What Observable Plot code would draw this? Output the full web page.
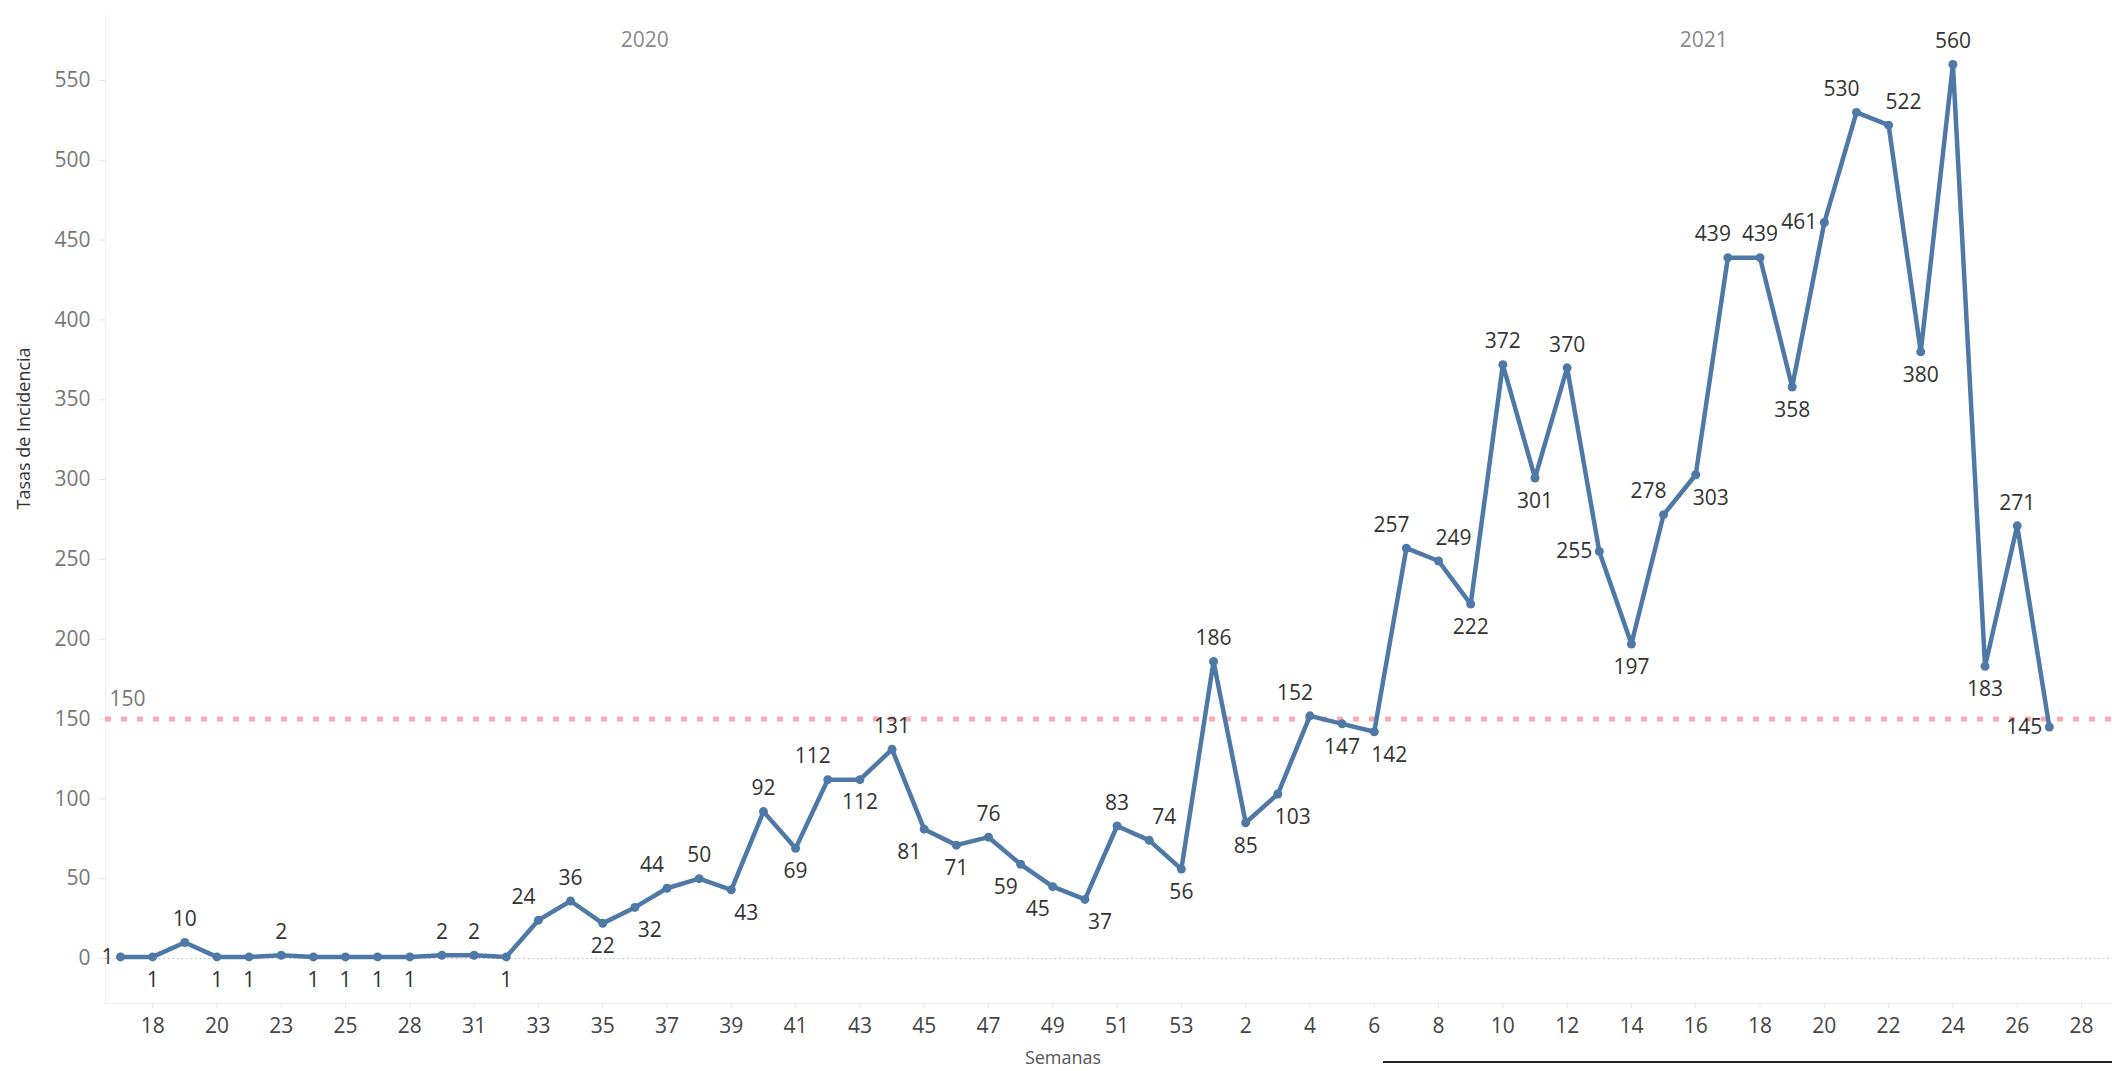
<!DOCTYPE html>
<html>
<head>
<meta charset="utf-8">
<script src="https://cdn.jsdelivr.net/npm/d3@7"></script>
<script src="https://cdn.jsdelivr.net/npm/@observablehq/plot@0.6"></script>
<style>
  html, body { margin: 0; padding: 0; background: #fff; overflow: hidden; }
  #chart { position: relative; width: 2112px; height: 1071px; }
  #edge { position: absolute; left: 1383px; top: 1061px; width: 729px; height: 0; border-top: 2px solid #222; }
</style>
</head>
<body>
<div id="chart"></div>
<script>
// ---- data ----
const weeks2020 = [17,18,19,20,21,23,24,25,26,28,29,31,32,33,34,35,36,37,38,39,40,41,42,43,44,45,46,47,48,49,50,51,52,53];
const values2020 = [1,1,10,1,1,2,1,1,1,1,2,2,1,24,36,22,32,44,50,43,92,69,112,112,131,81,71,76,59,45,37,83,74,56];
const weeks2021 = [1,2,3,4,5,6,7,8,9,10,11,12,13,14,15,16,17,18,19,20,21,22,23,24,25,26,27];
const values2021 = [186,85,103,152,147,142,257,249,222,372,301,370,255,197,278,303,439,439,358,461,530,522,380,560,183,271,145];
const axisWeeks2021 = [...weeks2021, 28];
const yTicks = [0,50,100,150,200,250,300,350,400,450,500,550];
const years = ["2020", "2021"];
const refValue = 150;
const yLabel = "Tasas de Incidencia";
const xLabel = "Semanas";

// ---- label placement (style) ----
const labelSide2020 = ["l","b","a","b","b","a","b","b","b","b","a","a","b","al","a","b","br","al","a","br","a","b","al","b","a","bl","b","a","bl","bl","br","a","ar","b"];
const labelSide2021 = ["a","b","br","al","b","br","al","ar","b","a","b","a","l","b","al","br","al","a","b","l","al","ar","b","a","b","a","l"];
const sideStyle = {
  a:  {dx: 0,   dy: -23, textAnchor: "middle"},
  al: {dx: -15, dy: -23, textAnchor: "middle"},
  ar: {dx: 15,  dy: -23, textAnchor: "middle"},
  b:  {dx: 0,   dy: 23,  textAnchor: "middle"},
  bl: {dx: -15, dy: 23,  textAnchor: "middle"},
  br: {dx: 15,  dy: 23,  textAnchor: "middle"},
  l:  {dx: -7,  dy: 0,   textAnchor: "end"}
};
const headerAnchor = {"2020": "2020-36", "2021": "2021-16"};
const headerDx = {"2020": 10, "2021": 8};

// ---- build table ----
const rows = [
  ...weeks2020.map((w, i) => ({key: `2020-${w}`, value: values2020[i], side: labelSide2020[i]})),
  ...weeks2021.map((w, i) => ({key: `2021-${w}`, value: values2021[i], side: labelSide2021[i]}))
];
const domain = [...weeks2020.map(w => `2020-${w}`), ...axisWeeks2021.map(w => `2021-${w}`)];
const xTicks = domain.filter((d, i) => i % 2 === 1);
const yDomain = [-28.2, 590.7];

const BLUE = "#4e79a7";

const labelMarks = Object.entries(sideStyle).map(([side, s]) =>
  Plot.text(rows.filter(r => r.side === side), {
    x: "key", y: "value", text: d => String(d.value),
    dx: s.dx, dy: s.dy, textAnchor: s.textAnchor, fill: "#333"
  })
);

const headerMarks = years.map(yr =>
  Plot.text([yr], {x: () => headerAnchor[yr], frameAnchor: "top", dy: 17, dx: headerDx[yr], text: d => d, fill: "#8a8a8a"})
);

const chart = Plot.plot({
  width: 2112,
  height: 1071,
  marginLeft: 105,
  marginRight: 0,
  marginTop: 15,
  marginBottom: 68,
  style: {fontFamily: "'Open Sans', 'Noto Sans', sans-serif", fontSize: "21px", background: "#fff", overflow: "visible"},
  x: {type: "point", domain, range: [120, 2081], padding: 0, round: false, axis: null},
  y: {domain: yDomain, axis: null},
  marks: [
    Plot.frame({anchor: "left", stroke: "#efefef"}),
    Plot.ruleY([yDomain[0]], {stroke: "#efefef"}),
    Plot.axisY(yTicks, {anchor: "left", tickSize: 6, tickPadding: 9, fill: "#777", stroke: "#e6e6e6", label: null, tickFormat: d => String(d)}),
    Plot.axisX({ticks: xTicks, tickFormat: k => k.split("-")[1], tickSize: 5, tickPadding: 10, fill: "#444", stroke: "#e6e6e6", label: null}),
    Plot.ruleY([0], {stroke: "#bdbdbd", strokeDasharray: "1.5,3"}),
    Plot.ruleY([refValue], {stroke: "#fcaab2", strokeWidth: 5, strokeDasharray: "6,10"}),
    Plot.text([refValue], {y: d => d, text: d => String(d), frameAnchor: "left", textAnchor: "start", dx: 4, dy: -20, fill: "#777"}),
    Plot.line(rows, {x: "key", y: "value", stroke: BLUE, strokeWidth: 4.5, strokeLinejoin: "round"}),
    Plot.dot(rows, {x: "key", y: "value", r: 4.5, fill: BLUE}),
    ...labelMarks,
    ...headerMarks,
    Plot.text([yLabel], {frameAnchor: "left", dx: -81, rotate: -90, text: d => d, fontSize: 18, fill: "#333"}),
    Plot.text([xLabel], {frameAnchor: "bottom", dx: -46, dy: 60, text: d => d, fontSize: 18, fill: "#555"})
  ]
});

const holder = document.getElementById("chart");
holder.appendChild(chart);
const edge = document.createElement("div");
edge.id = "edge";
holder.appendChild(edge);
</script>
</body>
</html>
